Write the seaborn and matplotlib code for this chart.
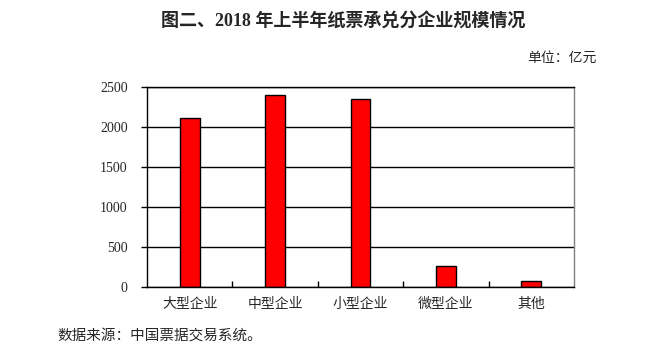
import numpy as np
import pandas as pd
import seaborn as sns
import matplotlib.pyplot as plt
from matplotlib.ticker import FixedLocator

categories = ['大型企业', '中型企业', '小型企业', '微型企业', '其他']
values = [2112, 2400, 2350, 262, 75]
y_ticks = [0, 500, 1000, 1500, 2000, 2500]

df = pd.DataFrame({'type': categories, 'amount': values})

sns.set_style('white')
plt.rcParams['font.family'] = ['Liberation Serif', 'Noto Sans CJK SC']

fig = plt.figure(figsize=(6.63, 3.55), dpi=100)
ax = fig.add_axes([147 / 663, 1 - 287 / 355, 427 / 663, 200 / 355])

sns.barplot(data=df, x='type', y='amount', color='#ff0000', saturation=1,
            width=0.23, edgecolor='black', linewidth=1, ax=ax)

ax.set_xlim(-0.5, 4.5)
ax.set_ylim(0, 2500)
ax.set_yticks(y_ticks)
ax.yaxis.grid(True, color='black', linewidth=1)
ax.set_axisbelow(True)
ax.set_xlabel('')
ax.set_ylabel('')

ax.tick_params(axis='y', length=4, width=1, color='black', direction='out',
               labelsize=10, pad=10, left=True)
ax.tick_params(axis='x', which='major', length=0, labelsize=10, pad=8)
ax.xaxis.set_minor_locator(FixedLocator([0.5, 1.5, 2.5, 3.5]))
ax.tick_params(axis='x', which='minor', length=4, width=1, color='black',
               direction='in', bottom=True)

for side in ['left', 'bottom', 'top']:
    ax.spines[side].set_color('black')
    ax.spines[side].set_linewidth(1)
ax.spines['right'].set_color('#808080')
ax.spines['right'].set_linewidth(1)

fig.text(343 / 663, 1 - 22 / 355, '图二、2018 年上半年纸票承兑分企业规模情况',
         ha='center', va='center', fontsize=13, fontweight='bold')
fig.text(597 / 663, 1 - 58 / 355, '单位：亿元', ha='right', va='center', fontsize=10)
fig.text(57 / 663, 1 - 336 / 355, '数据来源：中国票据交易系统。', ha='left', va='center',
         fontsize=10.5)

fig.savefig('out.png', dpi=100)
